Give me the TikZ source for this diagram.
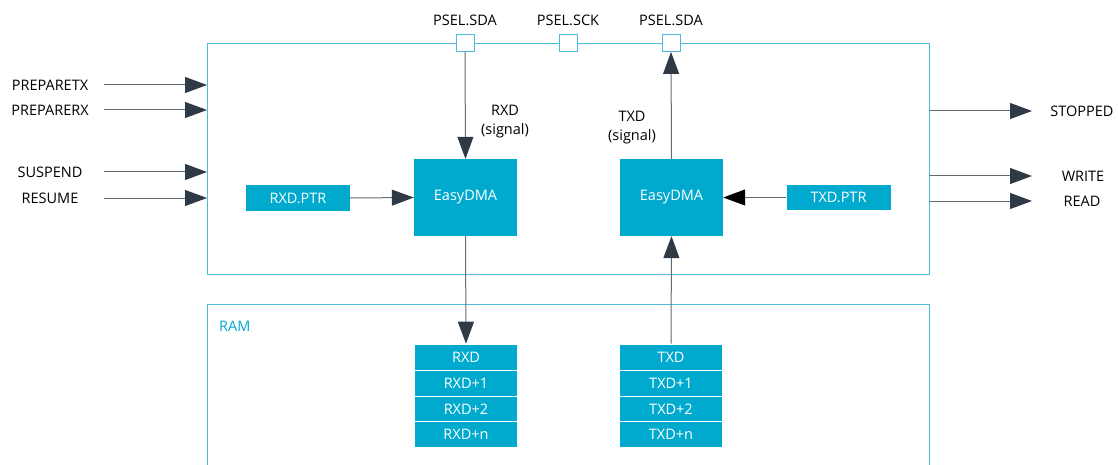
\documentclass[tikz,border=0pt]{standalone}
\usepackage{fontspec}
\setmainfont{Open Sans}
\usetikzlibrary{arrows.meta}
\definecolor{cy}{HTML}{00A9CE}
\definecolor{bl}{HTML}{4DBBD9}
\definecolor{ar}{HTML}{2E3B46}
\begin{document}
\begin{tikzpicture}[x=1pt,y=-1pt,
  every node/.style={font=\fontsize{14.5}{19}\selectfont},
  frame/.style={draw=bl,line width=0.9pt},
  pin/.style={draw=bl,fill=white,line width=0.9pt,minimum width=18pt,minimum height=17pt,inner sep=0pt},
  dma/.style={fill=cy,text=white,minimum width=103pt,minimum height=77pt,inner sep=0pt},
  ptr/.style={fill=cy,text=white,minimum width=104pt,minimum height=25pt,inner sep=0pt},
  cell/.style={fill=cy,draw=white,line width=0.6pt,text=white,minimum width=103pt,minimum height=26pt,inner sep=0pt},
  sig/.style={draw=ar!75,line width=1pt,-{Triangle[length=22pt,width=16pt,color=ar,fill=ar]}},
  lbl/.style={inner sep=0pt}
]
\useasboundingbox (0,0) rectangle (1118,465);
% frames
\draw[frame] (207,43) rectangle (929,274);
\draw[frame] (207,465) -- (207,304) -- (929,304) -- (929,465);
\node[lbl,text=cy,anchor=west] (ram) at (219,326) {RAM};
% pins
\node[pin] (p1) at (465,43) {};
\node[pin] (p2) at (568,43) {};
\node[pin] (p3) at (671,43) {};
\node[lbl] (l1) at (465,20) {PSEL.SDA};
\node[lbl] (l2) at (568,20) {PSEL.SCK};
\node[lbl] (l3) at (671,20) {PSEL.SDA};
% DMA
\node[dma] (d1) at (465.5,197.5) {EasyDMA};
\node[dma] (d2) at (671.5,197.5) {EasyDMA};
\node[ptr] (rp) at (298,198) {RXD.PTR};
\node[ptr] (tp) at (838.5,197.5) {TXD.PTR};
% signal labels
\node[lbl,align=center] (rs) at (505,122) {RXD\\(signal)};
\node[lbl,align=center] (ts) at (632,128) {TXD\\(signal)};
% memory
\node[cell] (r0) at (466,357) {RXD};
\node[cell] (r1) at (466,383) {RXD+1};
\node[cell] (r2) at (466,409) {RXD+2};
\node[cell] (r3) at (466,434) {RXD+n};
\node[cell] (t0) at (671,357) {TXD};
\node[cell] (t1) at (671,383) {TXD+1};
\node[cell] (t2) at (671,409) {TXD+2};
\node[cell] (t3) at (671,434) {TXD+n};
% connectors
\draw[sig] (p1.south) -- (d1.north);
\draw[sig] (d2.north) -- (p3.south);
\draw[sig] (rp.east) -- (d1.west);
\draw[draw=ar!75,line width=1pt,-{Triangle[length=22pt,width=16pt,color=black,fill=black]}] (tp.west) -- (d2.east);
\draw[sig] (d1.south) -- (r0.north);
\draw[sig] (t0.north) -- (d2.south);
% left inputs
\node[lbl] (ptx) at (50,85) {PREPARETX};
\node[lbl] (prx) at (50,110) {PREPARERX};
\node[lbl] (sus) at (50,172) {SUSPEND};
\node[lbl] (res) at (50,198) {RESUME};
\coordinate (a1) at (104,85); \coordinate (b1) at (207,85);
\coordinate (a2) at (104,110); \coordinate (b2) at (207,110);
\coordinate (a3) at (104,172); \coordinate (b3) at (207,172);
\coordinate (a4) at (104,198); \coordinate (b4) at (207,198);
\draw[sig] (a1) -- (b1);
\draw[sig] (a2) -- (b2);
\draw[sig] (a3) -- (b3);
\draw[sig] (a4) -- (b4);
% right outputs
\node[lbl] (stp) at (1082,111) {STOPPED};
\node[lbl] (wr) at (1083,176) {WRITE};
\node[lbl] (rd) at (1082,201) {READ};
\coordinate (c1) at (929,111); \coordinate (e1) at (1032,111);
\coordinate (c2) at (929,176); \coordinate (e2) at (1032,176);
\coordinate (c3) at (929,201); \coordinate (e3) at (1032,201);
\draw[sig] (c1) -- (e1);
\draw[sig] (c2) -- (e2);
\draw[sig] (c3) -- (e3);
\end{tikzpicture}
\end{document}
